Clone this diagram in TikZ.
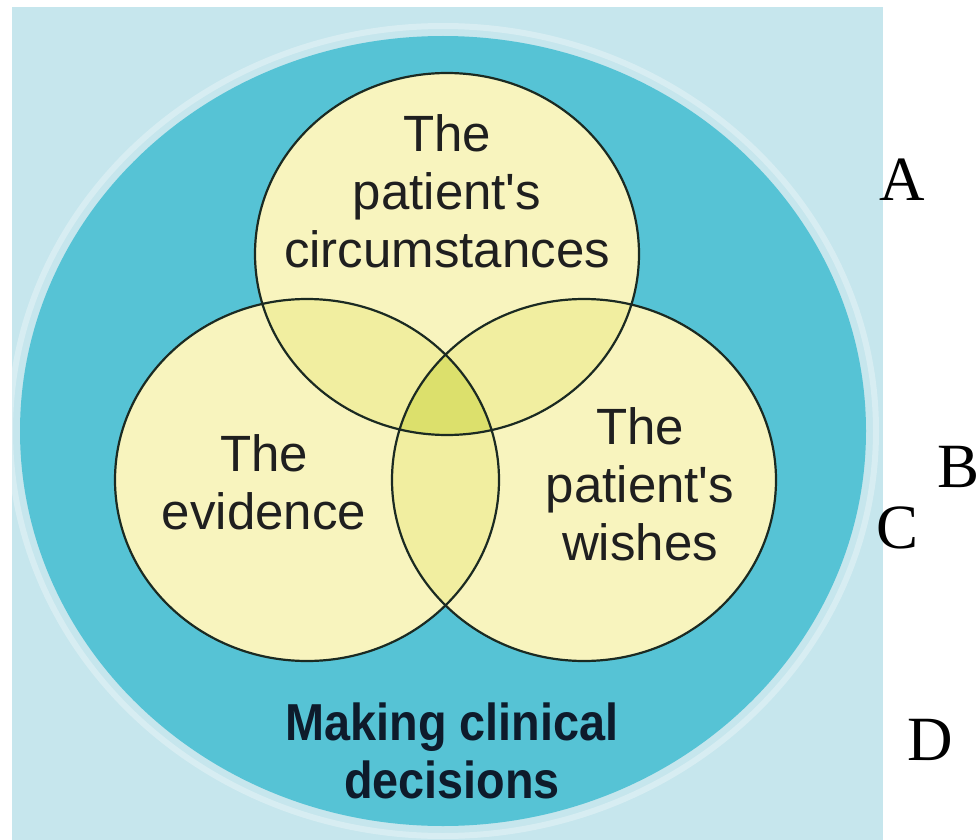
\documentclass[tikz,border=0pt]{standalone}
\usepackage{fontspec}
\setmainfont{Liberation Serif}
\newfontfamily\vennfont{Liberation Sans}
\newfontfamily\decisionfont[FakeStretch=0.9]{Liberation Sans}
\definecolor{bgblue}{HTML}{C6E6ED}
\definecolor{ringteal}{HTML}{56C3D5}
\definecolor{vennyellow}{HTML}{F8F4BE}
\definecolor{pairyellow}{HTML}{F1EEA0}
\definecolor{coreyellow}{HTML}{DCE06C}
\definecolor{edgegreen}{HTML}{1B2A22}
\definecolor{inkdark}{HTML}{1F1F1F}
\definecolor{inknavy}{HTML}{0E1B2B}
%% the three circles of the Venn diagram
\newcommand\circtop{(447,254) ellipse [x radius=192, y radius=181]}
\newcommand\circleft{(307,480) ellipse [x radius=192, y radius=181]}
\newcommand\circright{(584,480) ellipse [x radius=192, y radius=181]}
\tikzset{
  venntext/.style={font=\vennfont\fontsize{25.5}{29}\selectfont,align=center,text=inkdark,inner sep=0pt},
  decisiontext/.style={font=\decisionfont\bfseries\fontsize{26}{29}\selectfont,align=center,text=inknavy,inner sep=0pt},
  letterlabel/.style={font=\fontsize{31.5}{36}\selectfont,anchor=base,inner sep=0pt}
}
\begin{document}
\begin{tikzpicture}[x=0.5pt,y=-0.5pt]
    \useasboundingbox (0,0) rectangle (980,840);
    %% Background
    \fill[bgblue] (12,7) rectangle (883,840);
    \draw[white,opacity=0.3,line width=3] (443,431) ellipse [x radius=433, y radius=405];
    \fill[ringteal] (443,431) ellipse [x radius=423, y radius=395];
    %% Circles
    \fill[vennyellow] \circtop;
    \fill[vennyellow] \circleft;
    \fill[vennyellow] \circright;
    %% Overlaps
    \begin{scope}
        \clip \circtop;
        \fill[pairyellow] \circleft;
        \fill[pairyellow] \circright;
    \end{scope}
    \begin{scope}
        \clip \circleft;
        \fill[pairyellow] \circright;
    \end{scope}
    \begin{scope}
        \clip \circtop;
        \clip \circleft;
        \fill[coreyellow] \circright;
    \end{scope}
    \draw[edgegreen,line width=1.1pt] \circtop \circleft \circright;
    %% Labels
    \node[venntext] (circumstances) at (447,191) {The\\patient's\\circumstances};
    \node[venntext] (evidence) at (264,482) {The\\evidence};
    \node[venntext] (wishes) at (640,484) {The\\patient's\\wishes};
    \node[decisiontext] (decisions) at (452,751) {Making clinical\\decisions};
    %% Letters
    \node[letterlabel] (A) at (902,200) {A};
    \node[letterlabel] (B) at (958,487) {B};
    \node[letterlabel] (C) at (898,548) {C};
    \node[letterlabel] (D) at (930,760) {D};
\end{tikzpicture}
\end{document}
